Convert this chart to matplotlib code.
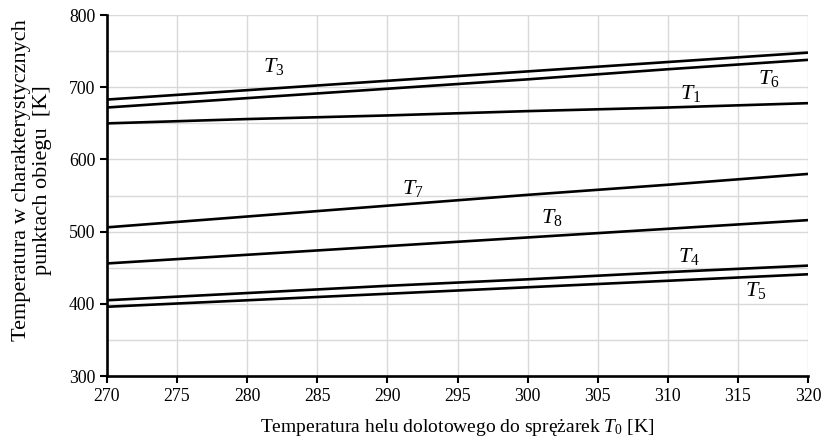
import matplotlib
matplotlib.use("Agg")
import matplotlib.pyplot as plt
from matplotlib.ticker import MultipleLocator

plt.rcParams["font.family"] = ["Liberation Serif", "DejaVu Serif"]
plt.rcParams["mathtext.fontset"] = "custom"
plt.rcParams["mathtext.rm"] = "Liberation Serif"
plt.rcParams["mathtext.it"] = "Liberation Serif:italic"

# Inlet helium temperature T0 [K]
t0 = [270, 280, 290, 300, 310, 320]

# Temperatures at characteristic cycle points [K]
T3 = [683, 696, 709, 722, 735, 748]
T6 = [672, 685, 698, 711, 725, 738]
T1 = [650, 656, 661, 667, 672, 678]
T7 = [506, 521, 536, 551, 565, 580]
T8 = [456, 468, 480, 492, 504, 516]
T4 = [405, 415, 425, 434, 444, 453]
T5 = [396, 405, 414, 423, 432, 441]

series = [("3", T3, 281.9, 729), ("6", T6, 317.2, 712), ("1", T1, 311.6, 692),
          ("7", T7, 291.8, 560), ("8", T8, 301.7, 520), ("4", T4, 311.5, 466),
          ("5", T5, 316.3, 419)]

fig = plt.figure(figsize=(8.23, 4.44), dpi=100)
ax = fig.add_axes([0.130, 0.153, 0.8518, 0.813])

for name, vals, lx, ly in series:
    ax.plot(t0, vals, color="black", lw=1.9, solid_capstyle="butt", zorder=3)
    ax.text(lx, ly, rf"$\mathit{{T}}_{{\mathit{{{name}}}}}$", fontsize=16,
            ha="center", va="center")

ax.set_xlim(270, 320)
ax.set_ylim(300, 800)
ax.xaxis.set_major_locator(MultipleLocator(5))
ax.yaxis.set_major_locator(MultipleLocator(100))
ax.yaxis.set_minor_locator(MultipleLocator(50))
ax.grid(True, which="both", color="#d9d9d9", lw=1.0, zorder=0)
ax.tick_params(axis="y", which="minor", length=0)
ax.tick_params(axis="both", which="major", direction="out", length=5, width=1.5,
               labelsize=12.8, color="black")
for s in ["top", "right"]:
    ax.spines[s].set_visible(False)
for s in ["left", "bottom"]:
    ax.spines[s].set_linewidth(1.9)
    ax.spines[s].set_zorder(4)

ax.set_xlabel(r"Temperatura helu dolotowego do sprężarek $\mathit{T}_{\mathit{0}}$ [K]",
              fontsize=14, labelpad=9)
ax.set_ylabel("Temperatura w charakterystycznych\npunktach obiegu  [K]", fontsize=16,
              linespacing=1.15)
ax.yaxis.set_label_coords(-0.078, 0.543)

fig.savefig("out.png", dpi=100)
